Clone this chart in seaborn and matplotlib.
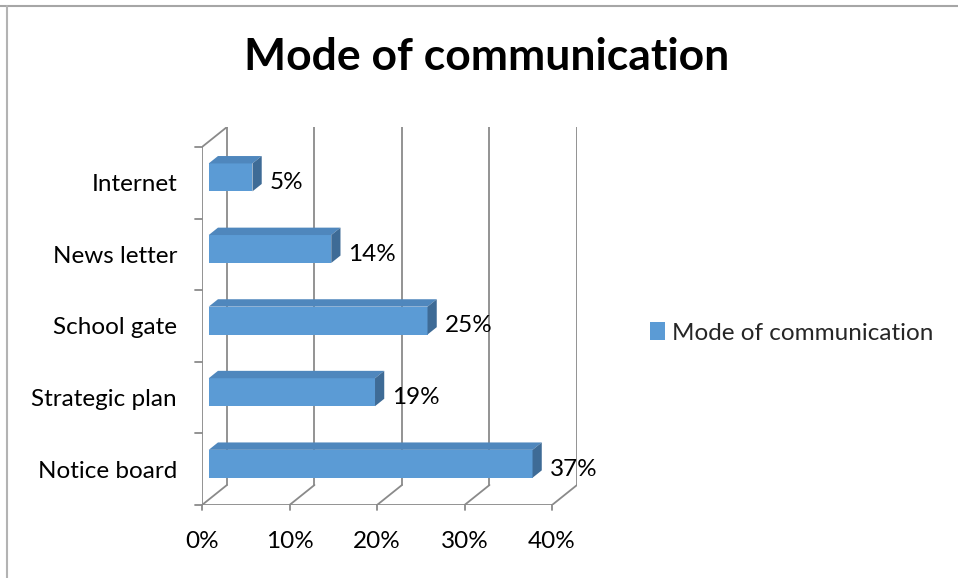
import matplotlib
matplotlib.use("Agg")
import matplotlib.pyplot as plt
from matplotlib.patches import Polygon, Patch
import pandas as pd
import seaborn as sns

# data (top to bottom)
categories = ["Internet", "News letter", "School gate", "Strategic plan", "Notice board"]
values = [5, 14, 25, 19, 37]
x_ticks = [0, 10, 20, 30, 40]
x_tick_labels = ["0%", "10%", "20%", "30%", "40%"]
series_name = "Mode of communication"

df = pd.DataFrame({"Mode": categories, "Share": values})

FONT = "Lato"
FS = 17.5
FRONT = "#5b9bd5"
TOP = "#4f87bd"
SIDE = "#3e6b96"
GRID = "#8a8a8a"

# fake 3d depth (data units): x in %, y in category units
DX, DY = 2.85, -0.279
F0, F1 = 0.27, 0.64
BAR_H = 0.39

sns.set_theme(style="white")
plt.rcParams["font.family"] = [FONT, "DejaVu Sans"]

fig = plt.figure(figsize=(9.58, 5.78), dpi=100)
ax = fig.add_axes([202 / 958, (578 - 505) / 578, 375 / 958, 378 / 578])

# front faces via seaborn, then pushed into the depth
sns.barplot(data=df, x="Share", y="Mode", order=categories, orient="h",
            color=FRONT, saturation=1, width=BAR_H, ax=ax, zorder=3)
for p in list(ax.patches):
    x0 = p.get_x()
    y0 = p.get_y()
    w = p.get_width()
    h = p.get_height()
    p.set_x(x0 + F0 * DX)
    p.set_y(y0 + F0 * DY)
    p.set_edgecolor("none")
    top = [(x0 + F0 * DX, y0 + F0 * DY), (x0 + w + F0 * DX, y0 + F0 * DY),
           (x0 + w + F1 * DX, y0 + F1 * DY), (x0 + F1 * DX, y0 + F1 * DY)]
    side = [(x0 + w + F0 * DX, y0 + F0 * DY), (x0 + w + F0 * DX, y0 + h + F0 * DY),
            (x0 + w + F1 * DX, y0 + h + F1 * DY), (x0 + w + F1 * DX, y0 + F1 * DY)]
    ax.add_patch(Polygon(top, closed=True, facecolor=TOP, edgecolor="none", zorder=3))
    ax.add_patch(Polygon(side, closed=True, facecolor=SIDE, edgecolor="none", zorder=3))

# walls and gridlines
for x in x_ticks:
    ax.plot([x + DX, x + DX], [4.5 + DY, -0.5 + DY], color=GRID, lw=1.3, zorder=1)
    ax.plot([x, x + DX], [4.5, 4.5 + DY], color=GRID, lw=1.3, zorder=1)
    ax.plot([x, x], [4.5, 4.57], color=GRID, lw=1.3, clip_on=False, zorder=1)
ax.plot([0, 40], [4.5, 4.5], color=GRID, lw=1.3, zorder=1)
ax.plot([0, 0], [4.5, -0.5], color=GRID, lw=1.3, zorder=1)
ax.plot([0, DX], [-0.5, -0.5 + DY], color=GRID, lw=1.3, zorder=1)
for i in range(len(categories) + 1):
    y = i - 0.5
    ax.plot([-0.8, 0], [y, y], color=GRID, lw=1.3, clip_on=False, zorder=1)

for i, v in enumerate(values):
    ax.text(v + F1 * DX + 0.9, i, f"{v}%", ha="left", va="center",
            fontsize=FS, color="black", zorder=4)

ax.set_xlim(0, 40 + DX)
ax.set_ylim(4.5, -0.5 + DY)
for s in ax.spines.values():
    s.set_visible(False)

ax.set_xticks(x_ticks)
ax.set_xticklabels(x_tick_labels, fontsize=FS)
ax.set_yticks(range(len(categories)))
ax.set_yticklabels(categories, fontsize=FS)
ax.tick_params(axis="both", length=0, colors="black")
ax.tick_params(axis="y", pad=18)
ax.tick_params(axis="x", pad=19)
ax.set_xlabel("")
ax.set_ylabel("")
ax.grid(False)

fig.text(487 / 958, 1 - 57 / 578, "Mode of communication", ha="center", va="center",
         fontsize=32, fontweight="bold", color="black")

handle = Patch(facecolor=FRONT, edgecolor="none")
fig.legend([handle], [series_name], loc="center left",
           bbox_to_anchor=(650 / 958, 1 - 333 / 578), frameon=False,
           fontsize=FS, handlelength=0.6, handleheight=0.7, handletextpad=0.3,
           borderaxespad=0, borderpad=0)

# chart frame (top and left edges visible)
fig.add_artist(plt.Line2D([0, 1], [1 - 6 / 578, 1 - 6 / 578], color="#a6a6a6", lw=1.5,
                          transform=fig.transFigure))
fig.add_artist(plt.Line2D([7 / 958, 7 / 958], [0, 1 - 6 / 578], color="#b3b3b3", lw=1.5,
                          transform=fig.transFigure))

fig.savefig("out.png", dpi=100, facecolor="white")
